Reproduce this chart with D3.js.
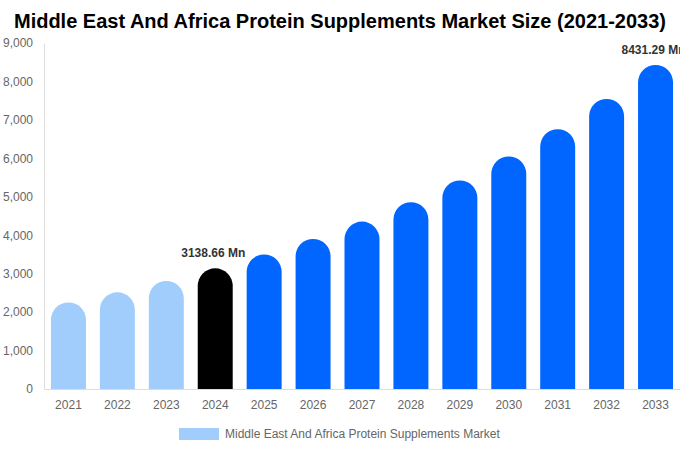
<!DOCTYPE html>
<html><head><meta charset="utf-8">
<script src="https://cdn.jsdelivr.net/npm/d3@7"></script>
<style>html,body{margin:0;padding:0;background:#fff;}svg{display:block;font-family:"Liberation Sans",Arial,sans-serif;}</style>
</head><body>
<svg id="c" width="680" height="450"></svg>
<script>
const years = ["2021","2022","2023","2024","2025","2026","2027","2028","2029","2030","2031","2032","2033"];
const values = [2250, 2515, 2810, 3138.66, 3500, 3905, 4355, 4860, 5425, 6050, 6760, 7545, 8431.29];
const barColors = ["#a0cdfc","#a0cdfc","#a0cdfc","#000000","#0066ff","#0066ff","#0066ff","#0066ff","#0066ff","#0066ff","#0066ff","#0066ff","#0066ff"];
const labelled = {"2024":"3138.66 Mn","2033":"8431.29 Mn"};
const yTicks = [0,1000,2000,3000,4000,5000,6000,7000,8000,9000];
const title = "Middle East And Africa Protein Supplements Market Size (2021-2033)";
const legendLabel = "Middle East And Africa Protein Supplements Market";

(function () {
const svg = d3.select("#c");
const mLeft = 44, mRight = 680, mTop = 43, mBottom = 389;
const x = d3.scaleBand().domain(years).range([mLeft, mRight]).paddingInner(0.285).paddingOuter(0.1425);
const y = d3.scaleLinear().domain([0, 9000]).range([mBottom, mTop]);

svg.append("text").attr("x", 340).attr("y", 28).attr("text-anchor", "middle")
  .attr("font-size", 20).attr("font-weight", "bold").attr("fill", "#000").text(title);

// y axis
const ya = svg.append("g").attr("transform", `translate(${mLeft},0)`)
  .call(d3.axisLeft(y).tickValues(yTicks).tickSize(0).tickPadding(11).tickFormat(d3.format(",")));
ya.select(".domain").attr("stroke", "#dddddd");
ya.selectAll("text").attr("font-size", 12).attr("fill", "#666").attr("font-family", "Liberation Sans, Arial, sans-serif");

// x axis
const xa = svg.append("g").attr("transform", `translate(0,${mBottom})`)
  .call(d3.axisBottom(x).tickSize(0).tickPadding(11));
xa.select(".domain").attr("stroke", "#dddddd");
xa.selectAll("text").attr("font-size", 12).attr("fill", "#666").attr("font-family", "Liberation Sans, Arial, sans-serif");

const bw = x.bandwidth(), r = bw / 2;
svg.append("g").selectAll("path").data(years).join("path")
  .attr("fill", (d, i) => barColors[i])
  .attr("d", (d, i) => {
    const x0 = x(d), t = y(values[i]), b = y(0);
    return `M${x0},${b}V${t + r}A${r},${r} 0 0 1 ${x0 + bw},${t + r}V${b}Z`;
  });

svg.append("g").selectAll("text").data(years.filter(d => labelled[d])).join("text")
  .attr("x", d => x(d) + bw / 2 - 2)
  .attr("y", d => y(values[years.indexOf(d)]) - 11)
  .attr("text-anchor", "middle").attr("font-size", 12).attr("font-weight", "bold").attr("fill", "#333")
  .text(d => labelled[d]);

// legend
svg.append("rect").attr("x", 179).attr("y", 428).attr("width", 40).attr("height", 12).attr("fill", "#a0cdfc");
svg.append("text").attr("x", 225).attr("y", 438).attr("font-size", 12).attr("fill", "#666").text(legendLabel);
})();
</script>
</body></html>
